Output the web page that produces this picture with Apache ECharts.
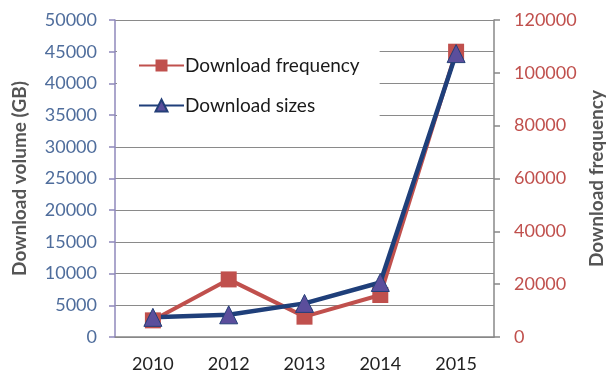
<!DOCTYPE html>
<html>
<head>
<meta charset="utf-8">
<script src="https://cdn.jsdelivr.net/npm/echarts@6/dist/echarts.min.js"></script>
<style>
  html, body { margin: 0; padding: 0; background: #fff; }
  #chart { width: 606px; height: 376px; }
</style>
</head>
<body>
<div id="chart"></div>
<script>
  // values
  var years = ['2010', '2012', '2013', '2014', '2015'];
  var downloadFrequency = [6300, 21800, 7700, 15900, 108000];
  var downloadSizes = [3100, 3500, 5300, 8600, 44700];

  var font = 'Lato';
  var plain = function (v) { return String(v); };
  var chart = echarts.init(document.getElementById('chart'));

  chart.setOption({
    animation: false,
    grid: { left: 115, right: 112, top: 20, bottom: 39, outerBoundsMode: 'none' },
    legend: {
      orient: 'vertical',
      left: 117,
      top: 36,
      padding: [20, 20, 14, 21],
      itemGap: 21,
      itemWidth: 45,
      itemHeight: 15,
      backgroundColor: '#fff',
      textStyle: { fontFamily: font, fontSize: 19, color: '#1a1a1a', padding: [0, 0, 0, -4] },
      data: ['Download frequency', 'Download sizes']
    },
    xAxis: {
      type: 'category',
      data: years,
      axisLine: { lineStyle: { color: '#888', width: 1.5 } },
      axisTick: { length: 6, lineStyle: { color: '#888', width: 1.5 } },
      axisLabel: { fontFamily: font, fontSize: 18, color: '#222', margin: 18 }
    },
    yAxis: [
      {
        type: 'value',
        min: 0, max: 50000, interval: 5000,
        name: 'Download volume (GB)',
        nameLocation: 'middle',
        nameGap: 86,
        nameTextStyle: { fontFamily: font, fontSize: 19, fontWeight: 'bold', color: '#555' },
        axisLine: { show: true, lineStyle: { color: '#8f88bb', width: 1.5 } },
        axisTick: { show: true, length: 6, lineStyle: { color: '#8f88bb', width: 1.5 } },
        axisLabel: { fontFamily: font, fontSize: 18, color: '#4f6d9c', margin: 18, formatter: plain },
        splitLine: { lineStyle: { color: '#8a8a8a', width: 1.2 } }
      },
      {
        type: 'value',
        min: 0, max: 120000, interval: 20000,
        position: 'right',
        name: 'Download frequency',
        nameLocation: 'middle',
        nameGap: 88,
        nameRotate: 90,
        nameTextStyle: { fontFamily: font, fontSize: 19, fontWeight: 'bold', color: '#555' },
        axisLine: { show: true, lineStyle: { color: '#888', width: 1.5 } },
        axisTick: { show: true, length: 6, lineStyle: { color: '#888', width: 1.5 } },
        axisLabel: { fontFamily: font, fontSize: 18, color: '#c0504d', margin: 20, formatter: plain },
        splitLine: { show: false }
      }
    ],
    series: [
      {
        name: 'Download frequency',
        type: 'line',
        yAxisIndex: 1,
        data: downloadFrequency,
        symbol: 'rect',
        symbolSize: 16,
        itemStyle: { color: '#c0504d' },
        lineStyle: { color: '#c0504d', width: 4 }
      },
      {
        name: 'Download sizes',
        type: 'line',
        yAxisIndex: 0,
        data: downloadSizes,
        symbol: 'triangle',
        symbolSize: 18,
        itemStyle: { color: '#5b4e9c', borderColor: '#243f78', borderWidth: 1 },
        lineStyle: { color: '#1f3f7a', width: 4.5 }
      }
    ]
  });
</script>
</body>
</html>
